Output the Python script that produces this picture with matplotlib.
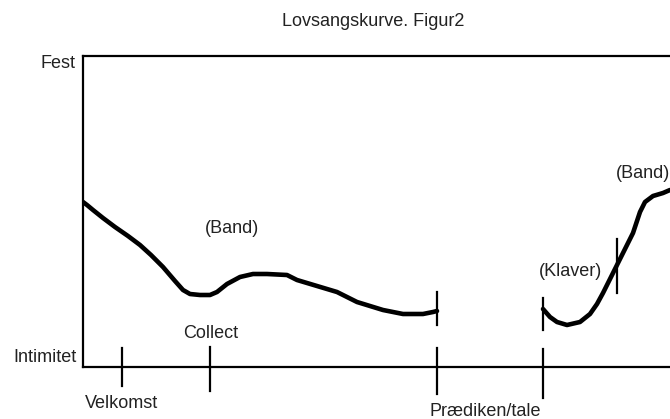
import matplotlib.pyplot as plt

plt.rcParams['font.family'] = ['Liberation Sans', 'DejaVu Sans']

# x: time along the service, y: level above "Intimitet" (pixel-ish units)
part1_x = [0, 4, 10, 20, 32, 45, 57, 68, 80, 92, 100, 107, 117, 127, 134, 144, 157,
           170, 184, 204, 214, 234, 254, 274, 300, 320, 340, 350, 354]
part1_y = [165, 162, 157, 149, 140, 131, 122, 112, 100, 86, 77, 73, 72, 72, 75, 83,
           90, 93, 93, 92, 87, 81, 75, 65, 57, 53, 53, 55, 56]

part2_x = [460, 467, 474, 484, 497, 507, 514, 520, 527, 534, 542, 550, 557, 562, 570,
           580, 587]
part2_y = [58, 50, 45, 42, 45, 53, 63, 74, 88, 102, 118, 134, 155, 165, 171, 174, 177]

ticks_x = [39, 127, 354, 460]
tick_lo = [-19, -24, -27, -31]
tick_hi = [19, 20, 19, 18]

breaks_x = [354, 460, 534]
breaks_lo = [42, 37, 74]
breaks_hi = [75, 69, 128]

notes = ["(Band)", "(Klaver)", "(Band)"]
notes_x = [149, 488, 560]
notes_y = [139, 96, 194]

axis_labels = ["Velkomst", "Collect", "Prædiken/tale"]
axis_lab_x = [39, 128, 402]
axis_lab_y = [-36, 34, -44]

fig = plt.figure(figsize=(6.7, 4.19), dpi=100)
ax = fig.add_axes([83 / 670, 52 / 419, 590 / 670, 311 / 419])

ax.plot(part1_x, part1_y, c="black", lw=3.3, solid_capstyle="round", solid_joinstyle="round")
ax.plot(part2_x, part2_y, c="black", lw=3.3, solid_capstyle="round", solid_joinstyle="round")

for x, lo, hi in zip(ticks_x, tick_lo, tick_hi):
    ax.plot([x, x], [lo, hi], c="black", lw=1.6, clip_on=False)
for x, lo, hi in zip(breaks_x, breaks_lo, breaks_hi):
    ax.plot([x, x], [lo, hi], c="black", lw=1.6, clip_on=False)

fs = 13
for t, x, y in zip(notes, notes_x, notes_y):
    ax.text(x, y, t, fontsize=fs, ha="center", va="center", color="#222222")
for t, x, y in zip(axis_labels, axis_lab_x, axis_lab_y):
    ax.text(x, y, t, fontsize=fs, ha="center", va="center", clip_on=False, color="#222222")

ax.text(-7, 303, "Fest", fontsize=fs, ha="right", va="center", color="#222222")
ax.text(-6, 10, "Intimitet", fontsize=fs, ha="right", va="center", color="#222222")

ax.set_xlim(0, 590)
ax.set_ylim(0, 311)
ax.set_xticks([])
ax.set_yticks([])
for s in ax.spines.values():
    s.set_linewidth(1.6)
ax.spines["right"].set_visible(False)

fig.text(373 / 670, 1 - 22 / 419, "Lovsangskurve. Figur2", fontsize=fs, ha="center",
         va="center", color="#222222")

fig.savefig("out.png", dpi=100)
